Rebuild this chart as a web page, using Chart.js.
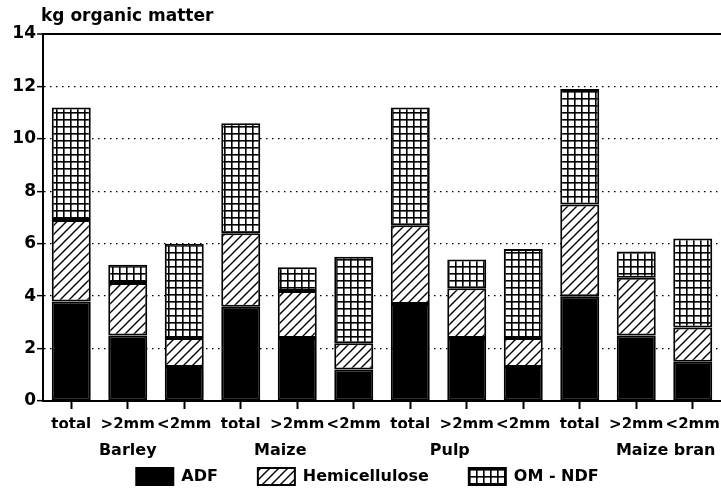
<!DOCTYPE html>
<html>
<head>
<meta charset="utf-8">
<script src="https://cdn.jsdelivr.net/npm/chart.js@4.4.1/dist/chart.umd.min.js"></script>
<style>
  html, body { margin: 0; padding: 0; background: #fff; }
  #wrap { width: 721px; height: 495px; }
</style>
</head>
<body>
<div id="wrap"><canvas id="myChart"></canvas></div>
<script>
const sizes = ['total', '>2mm', '<2mm', 'total', '>2mm', '<2mm', 'total', '>2mm', '<2mm', 'total', '>2mm', '<2mm'];
const groups = ['Barley', 'Maize', 'Pulp', 'Maize bran'];
const adf = [3.8, 2.5, 1.3, 3.6, 2.4, 1.2, 3.7, 2.4, 1.3, 4.0, 2.5, 1.5];
const hemicellulose = [3.1, 2.0, 1.1, 2.8, 1.8, 1.0, 3.0, 1.9, 1.1, 3.5, 2.2, 1.3];
const omNdf = [4.3, 0.7, 3.6, 4.2, 0.9, 3.3, 4.5, 1.1, 3.4, 4.4, 1.0, 3.4];

// where the group names sit, in category units
const groupAt = [1, 3.7, 6.7, 10.52];

Chart.defaults.font.family = 'DejaVu Sans';
Chart.defaults.font.weight = 'bold';
Chart.defaults.color = '#000';

function hatchPattern() {
  const c = document.createElement('canvas');
  c.width = 9; c.height = 9;
  const g = c.getContext('2d');
  g.fillStyle = '#fff';
  g.fillRect(0, 0, 9, 9);
  g.strokeStyle = '#000';
  g.lineWidth = 1.4;
  g.beginPath();
  g.moveTo(-1, 10); g.lineTo(10, -1);
  g.moveTo(-1, 1); g.lineTo(1, -1);
  g.moveTo(8, 10); g.lineTo(10, 8);
  g.stroke();
  return g.createPattern(c, 'repeat');
}

function gridPattern() {
  const c = document.createElement('canvas');
  c.width = 7; c.height = 7;
  const g = c.getContext('2d');
  g.fillStyle = '#fff';
  g.fillRect(0, 0, 7, 7);
  g.fillStyle = '#000';
  g.fillRect(0, 0, 7, 1.6);
  g.fillRect(0, 0, 1.6, 7);
  return g.createPattern(c, 'repeat');
}

const extraText = {
  id: 'extraText',
  afterDraw(chart) {
    const ctx = chart.ctx;
    const area = chart.chartArea;
    const x = chart.scales.x;
    ctx.save();
    ctx.fillStyle = '#000';
    ctx.textBaseline = 'middle';
    ctx.font = 'bold 17px "DejaVu Sans"';
    ctx.textAlign = 'left';
    ctx.fillText('kg organic matter', area.left - 2, area.top - 17);
    ctx.font = 'bold 16px "DejaVu Sans"';
    ctx.textAlign = 'center';
    groups.forEach((name, i) => {
      ctx.fillText(name, x.getPixelForValue(groupAt[i]), area.bottom + 50);
    });
    ctx.restore();
  }
};

const barStyle = {
  borderColor: '#000',
  borderWidth: 2,
  borderSkipped: false,
  categoryPercentage: 1,
  barPercentage: 0.69
};

const ctx = document.getElementById('myChart').getContext('2d');
const myChart = new Chart(ctx, {
  type: 'bar',
  data: {
    labels: sizes,
    datasets: [
      Object.assign({ label: 'ADF', data: adf, backgroundColor: '#000' }, barStyle),
      Object.assign({ label: 'Hemicellulose', data: hemicellulose, backgroundColor: hatchPattern() }, barStyle),
      Object.assign({ label: 'OM - NDF', data: omNdf, backgroundColor: gridPattern() }, barStyle)
    ]
  },
  options: {
    responsive: true,
    maintainAspectRatio: false,
    animation: false,
    layout: { padding: { top: 34, right: 0, left: 14, bottom: 0 } },
    plugins: {
      tooltip: { enabled: false },
      legend: {
        position: 'bottom',
        labels: {
          boxWidth: 37,
          boxHeight: 17,
          padding: 40,
          font: { size: 16, weight: 'bold' }
        }
      }
    },
    scales: {
      x: {
        stacked: true,
        afterFit: (s) => { s.height = 27; s.paddingRight = 0; s.paddingLeft = 0; },
        grid: {
          offset: false,
          drawOnChartArea: false,
          drawTicks: true,
          tickLength: 8,
          tickWidth: 2,
          tickColor: '#000',
          color: '#000'
        },
        border: { display: true, color: '#000', width: 2 },
        ticks: { padding: 7, font: { size: 15, weight: 'bold' }, maxRotation: 0, autoSkip: false }
      },
      y: {
        stacked: true,
        min: 0,
        max: 14,
        afterFit: (s) => { s.width = 29; s.paddingTop = 0; },
        grid: {
          color: (c) => (c.tick && c.tick.value === 0) ? 'rgba(0,0,0,0)' : '#000',
          lineWidth: (c) => (c.tick && c.tick.value === 14) ? 2 : 1.3,
          tickColor: '#000',
          tickLength: 6,
          tickWidth: 1.5
        },
        border: {
          display: true,
          color: '#000',
          width: 2,
          dash: (c) => (c.tick && c.tick.value !== 14) ? [1.5, 4.5] : []
        },
        ticks: { stepSize: 2, padding: 1, font: { size: 17, weight: 'bold' } }
      }
    }
  },
  plugins: [extraText]
});
</script>
</body>
</html>
